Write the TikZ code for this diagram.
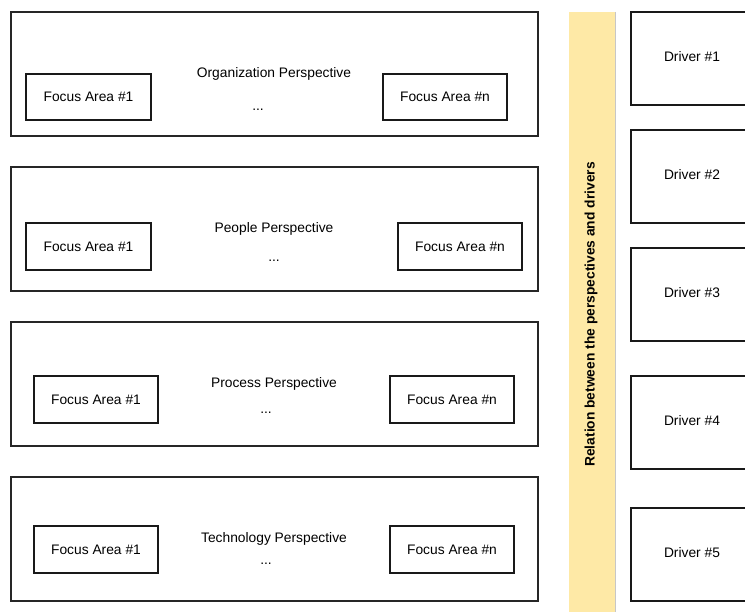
\documentclass[tikz,border=0pt]{standalone}
\usepackage{fontspec}
\setmainfont{Liberation Sans}
\begin{document}
\begin{tikzpicture}[x=1pt,y=-1pt,
  lbl/.style={font=\fontsize{13.8}{16}\selectfont},
  perspbox/.style={draw=black!85,line width=1.6pt},
  focusbox/.style={draw=black!90,line width=1.6pt},
  driverbox/.style={draw=black!90,line width=1.6pt},
  relbar/.style={fill=barfill,draw=black!20,line width=0.6pt}]
\definecolor{barfill}{HTML}{FEE9A6}
\clip (0,0) rectangle (745,612);
\fill[white] (0,0) rectangle (745,612);

% perspective frames
\draw[perspbox] (11,12) rectangle (538,136);
\draw[perspbox] (11,167) rectangle (538,291);
\draw[perspbox] (11,322) rectangle (538,446);
\draw[perspbox] (11,477) rectangle (538,601);

% perspective titles
\node[lbl] (org) at (274,74) {Organization Perspective};
\node[lbl] (orgd) at (258,110) {...};
\node[lbl] (ppl) at (274,229) {People Perspective};
\node[lbl] (ppld) at (274,261) {...};
\node[lbl] (prc) at (274,384) {Process Perspective};
\node[lbl] (prcd) at (266,413) {...};
\node[lbl] (tec) at (274,539) {Technology Perspective};
\node[lbl] (tecd) at (266,564) {...};

% focus areas
\draw[focusbox] (26,74) rectangle (151,120);
\node[lbl] (o1) at (88.5,97) {Focus Area \#1};
\draw[focusbox] (383,74) rectangle (507,120);
\node[lbl] (on) at (445,97) {Focus Area \#n};

\draw[focusbox] (26,223) rectangle (151,270);
\node[lbl] (p1) at (88.5,246.5) {Focus Area \#1};
\draw[focusbox] (398,223) rectangle (522,270);
\node[lbl] (pn) at (460,246.5) {Focus Area \#n};

\draw[focusbox] (34,376) rectangle (158,423);
\node[lbl] (r1) at (96,399.5) {Focus Area \#1};
\draw[focusbox] (390,376) rectangle (514,423);
\node[lbl] (rn) at (452,399.5) {Focus Area \#n};

\draw[focusbox] (34,526) rectangle (158,573);
\node[lbl] (t1) at (96,549.5) {Focus Area \#1};
\draw[focusbox] (390,526) rectangle (514,573);
\node[lbl] (tn) at (452,549.5) {Focus Area \#n};

% relation bar
\fill[barfill] (569,12) rectangle (615.5,615);
\draw[black!22,line width=0.7pt] (615.5,12) -- (615.5,615);
\node[lbl,font=\fontsize{13.8}{16}\selectfont\bfseries,rotate=90] (rel) at (591,314.5)
  {Relation between the perspectives and drivers};

% drivers
\draw[driverbox] (631,12) rectangle (755,105);
\node[lbl] (d1) at (692,57) {Driver \#1};
\draw[driverbox] (631,130) rectangle (755,223);
\node[lbl] (d2) at (692,175) {Driver \#2};
\draw[driverbox] (631,248) rectangle (755,341);
\node[lbl] (d3) at (692,293) {Driver \#3};
\draw[driverbox] (631,376) rectangle (755,469);
\node[lbl] (d4) at (692,421) {Driver \#4};
\draw[driverbox] (631,508) rectangle (755,601);
\node[lbl] (d5) at (692,553) {Driver \#5};
\end{tikzpicture}
\end{document}
